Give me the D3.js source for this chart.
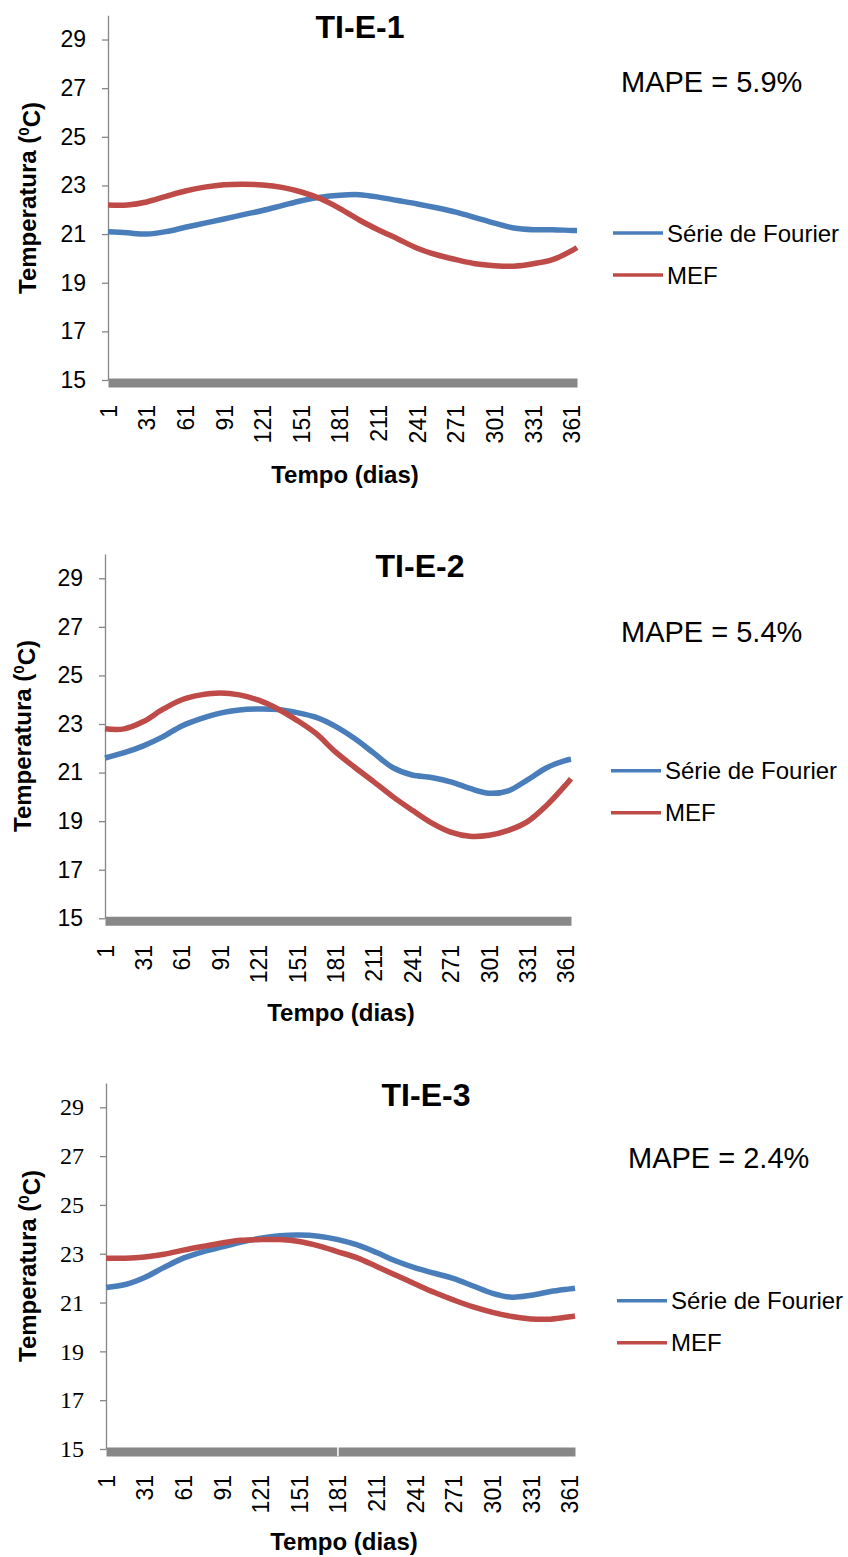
<!DOCTYPE html>
<html>
<head>
<meta charset="utf-8">
<script src="https://cdn.jsdelivr.net/npm/d3@7"></script>
<style>
  body { margin: 0; background: #fff; }
  svg { display: block; }
</style>
</head>
<body>
<div id="chart"></div>
<script>
// data (day of year -> temperature in degC)
const days = [1, 16, 31, 46, 61, 76, 91, 106, 121, 136, 151, 166, 181, 196, 211, 226, 241, 256, 271, 286, 301, 316, 331, 346, 361, 365];

const fourier1 = [21.1, 21.05, 21.0, 21.1, 21.28, 21.45, 21.62, 21.8, 21.97, 22.17, 22.37, 22.52, 22.6, 22.62, 22.52, 22.38, 22.24, 22.08, 21.9, 21.68, 21.45, 21.25, 21.18, 21.18, 21.15, 21.15];
const mef1 = [22.2, 22.2, 22.32, 22.55, 22.77, 22.93, 23.03, 23.05, 23.02, 22.92, 22.73, 22.45, 22.05, 21.58, 21.17, 20.8, 20.42, 20.15, 19.95, 19.78, 19.7, 19.68, 19.78, 19.95, 20.32, 20.45];

const fourier2 = [21.6, 21.82, 22.1, 22.47, 22.92, 23.22, 23.45, 23.58, 23.62, 23.6, 23.47, 23.27, 22.9, 22.4, 21.8, 21.2, 20.9, 20.8, 20.62, 20.35, 20.15, 20.25, 20.7, 21.2, 21.5, 21.55];
const mef2 = [22.8, 22.8, 23.1, 23.6, 24.0, 24.2, 24.28, 24.2, 23.98, 23.62, 23.15, 22.6, 21.85, 21.22, 20.62, 20.0, 19.45, 18.93, 18.55, 18.38, 18.42, 18.62, 18.98, 19.65, 20.5, 20.75];

const fourier3 = [21.62, 21.74, 22.03, 22.44, 22.82, 23.08, 23.28, 23.48, 23.64, 23.74, 23.77, 23.72, 23.58, 23.36, 23.05, 22.7, 22.42, 22.2, 21.98, 21.68, 21.38, 21.22, 21.3, 21.45, 21.56, 21.59];
const mef3 = [22.82, 22.82, 22.87, 22.98, 23.15, 23.3, 23.44, 23.55, 23.58, 23.58, 23.5, 23.32, 23.08, 22.83, 22.48, 22.12, 21.76, 21.41, 21.1, 20.82, 20.6, 20.43, 20.33, 20.32, 20.42, 20.45];

const panelTitles = ["TI-E-1", "TI-E-2", "TI-E-3"];
const mapeLabels = ["MAPE = 5.9%", "MAPE = 5.4%", "MAPE = 2.4%"];
const seriesNames = ["Série de Fourier", "MEF"];
const xTickDays = [1, 31, 61, 91, 121, 151, 181, 211, 241, 271, 301, 331, 361];
const yTicks = [15, 17, 19, 21, 23, 25, 27, 29];

const seriesColors = ["#4a7ebb", "#be4b48"];
const panelSeries = [[fourier1, mef1], [fourier2, mef2], [fourier3, mef3]];

const width = 848;
const height = 1557;
const sans = "'Liberation Sans', Arial, sans-serif";
const serif = "'Liberation Serif', 'Times New Roman', serif";

// where each panel sits on the page
const layout = [
  { x0: 108, x1: 577, yTop: 15.2, yBot: 380, titleX: 360, titleY: 38, mapeX: 621, mapeY: 92,
    legX: 613, legY: 233, yTitleX: 36, yTitleY: 198, labTop: 405, xTitleX: 345, xTitleY: 483, tickFont: sans },
  { x0: 105, x1: 571, yTop: 554, yBot: 918.3, titleX: 420, titleY: 577, mapeX: 621, mapeY: 642,
    legX: 611, legY: 770.7, yTitleX: 31, yTitleY: 736, labTop: 945, xTitleX: 341, xTitleY: 1021, tickFont: sans },
  { x0: 106, x1: 575, yTop: 1082.9, yBot: 1449, titleX: 426, titleY: 1106, mapeX: 628, mapeY: 1168,
    legX: 617, legY: 1300.7, yTitleX: 36, yTitleY: 1266, labTop: 1475, xTitleX: 344, xTitleY: 1550, tickFont: serif, notch: 181 }
];

const svg = d3.select("#chart").append("svg")
    .attr("width", width)
    .attr("height", height);

layout.forEach((p, i) => {
  const g = svg.append("g");

  const x = d3.scaleLinear().domain([1, 365]).range([p.x0, p.x1]);
  const y = d3.scaleLinear().domain([15, 30]).range([p.yBot, p.yTop]);

  // y axis
  const yAxis = g.append("g")
      .attr("transform", `translate(${p.x0},0)`)
      .call(d3.axisLeft(y).tickValues(yTicks).tickSize(6).tickSizeOuter(0).tickPadding(16));
  yAxis.select(".domain").attr("stroke", "#868686").attr("stroke-width", 1.3);
  yAxis.selectAll(".tick line").attr("stroke", "#868686").attr("stroke-width", 1.3);
  yAxis.selectAll(".tick text")
      .attr("font-family", null)
      .style("font-family", p.tickFont)
      .style("font-size", i === 2 ? "24px" : "23px")
      .attr("fill", "#000");

  // thick grey category axis with rotated day labels
  const axisY = p.yBot + 2.5;
  const xAxis = g.append("g")
      .attr("transform", `translate(0,${axisY})`)
      .call(d3.axisBottom(x).tickValues(xTickDays).tickSize(0).tickSizeOuter(0));
  xAxis.select(".domain").attr("stroke", "#878787").attr("stroke-width", 9);
  xAxis.selectAll(".tick text")
      .attr("transform", "rotate(-90)")
      .attr("text-anchor", "end")
      .attr("x", -(p.labTop - axisY))
      .attr("y", 0)
      .attr("dy", "0.35em")
      .style("font-family", sans)
      .style("font-size", "23px")
      .attr("fill", "#000");

  if (p.notch) {
    g.append("line")
        .attr("x1", x(p.notch)).attr("x2", x(p.notch))
        .attr("y1", axisY - 4.5).attr("y2", axisY + 4.5)
        .attr("stroke", "#fff").attr("stroke-width", 1.5);
  }

  // series lines
  const line = d3.line()
      .x((d, k) => x(days[k]))
      .y(d => y(d))
      .curve(d3.curveCatmullRom);

  panelSeries[i].forEach((vals, s) => {
    g.append("path")
        .datum(vals)
        .attr("fill", "none")
        .attr("stroke", seriesColors[s])
        .attr("stroke-width", 5.5)
        .attr("stroke-linejoin", "round")
        .attr("d", line);
  });

  // titles and labels
  g.append("text")
      .attr("x", p.titleX).attr("y", p.titleY)
      .attr("text-anchor", "middle")
      .style("font-family", sans).style("font-size", "32px").style("font-weight", "bold")
      .text(panelTitles[i]);

  g.append("text")
      .attr("x", p.mapeX).attr("y", p.mapeY)
      .style("font-family", sans).style("font-size", "29px")
      .text(mapeLabels[i]);

  const yTitle = g.append("text")
      .attr("transform", `translate(${p.yTitleX},${p.yTitleY}) rotate(-90)`)
      .attr("text-anchor", "middle")
      .style("font-family", sans).style("font-size", "24px").style("font-weight", "bold");
  yTitle.append("tspan").text("Temperatura (");
  yTitle.append("tspan").attr("dy", "-0.45em").style("font-size", "15px").text("0");
  yTitle.append("tspan").attr("dy", "0.45em").text("C)");

  g.append("text")
      .attr("x", p.xTitleX).attr("y", p.xTitleY)
      .attr("text-anchor", "middle")
      .style("font-family", sans).style("font-size", "24px").style("font-weight", "bold")
      .text("Tempo (dias)");

  // legend
  seriesNames.forEach((name, s) => {
    const ly = p.legY + s * 42;
    g.append("line")
        .attr("x1", p.legX).attr("x2", p.legX + 50)
        .attr("y1", ly).attr("y2", ly)
        .attr("stroke", seriesColors[s]).attr("stroke-width", 3.5);
    g.append("text")
        .attr("x", p.legX + 54).attr("y", ly + 8.5)
        .style("font-family", sans).style("font-size", "24px")
        .text(name);
  });
});
</script>
</body>
</html>
